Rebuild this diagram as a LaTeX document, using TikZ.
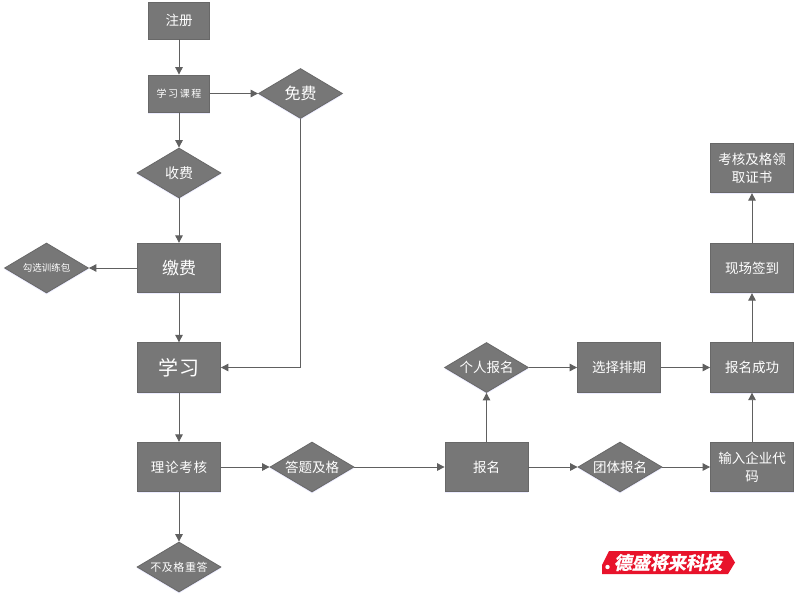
\documentclass[tikz,border=0pt]{standalone}
\usepackage{fontspec}
\setmainfont{Noto Sans CJK SC}
\newfontfamily\logofont[UprightFont=* Bold,FakeSlant=.18,FakeBold=1.2]{Noto Sans CJK SC}
\usetikzlibrary{shapes.geometric,arrows.meta,shadows}
\definecolor{boxfill}{HTML}{777777}
\definecolor{boxline}{HTML}{686868}
\definecolor{linkc}{HTML}{606060}
\definecolor{logored}{HTML}{E8132B}
\newcommand{\fs}[1]{\fontsize{#1pt}{18pt}\selectfont}
\tikzset{
 softshadow/.style={drop shadow={shadow xshift=0pt,shadow yshift=-1.5pt,fill=blue!30!white,opacity=.25}},
 basebox/.style={draw=boxline,fill=boxfill,line width=.8pt,text=white,align=center,inner sep=0pt,softshadow,font=\fs{13.5}},
 rectbox/.style={basebox,rectangle,minimum width=83pt,minimum height=49.5pt},
 smallbox/.style={basebox,rectangle,minimum width=61.5pt,minimum height=37pt},
 decide/.style={basebox,diamond,aspect=1.66,minimum width=84pt,minimum height=50pt},
 link/.style={draw=linkc,line width=.9pt,-{Triangle[length=7.5pt,width=7.5pt,fill=linkc]}}
}
\begin{document}
\begin{tikzpicture}[x=1pt,y=-1pt]
\useasboundingbox (0,0) rectangle (799,599);
\fill[white] (0,0) rectangle (799,599);
\node[smallbox] (zc) at (179,20.5) {\fs{13.5}注册};
\node[smallbox] (kc) at (179,93.5) {\fs{10}\addfontfeature{LetterSpace=16}学习课程};
\node[decide] (mf) at (300.5,93.5) {\fs{16}免费};
\node[decide] (sf) at (179,173) {\fs{14}收费};
\node[rectbox] (jf) at (179,268) {\fs{17}缴费};
\node[decide] (gx) at (46.5,268) {\fs{9.5}勾选训练包};
\node[rectbox] (xx) at (179,367.5) {\fs{20}\addfontfeature{LetterSpace=5}学习};
\node[rectbox] (ll) at (179,467) {\fs{13.5}\addfontfeature{LetterSpace=6}理论考核};
\node[decide] (bj) at (179,567) {\fs{11}\addfontfeature{LetterSpace=5}不及格重答};
\node[decide] (dt) at (312,467) {答题及格};
\node[rectbox] (bm) at (486.5,467) {报名};
\node[decide] (tt) at (620,467) {团体报名};
\node[rectbox] (sr) at (752,467) {输入企业代\\码};
\node[decide] (gr) at (486.5,367.5) {个人报名};
\node[rectbox] (pq) at (619,367.5) {选择排期};
\node[rectbox] (cg) at (752,367.5) {报名成功};
\node[rectbox] (qd) at (752,268) {现场签到};
\node[rectbox] (ks) at (752,168) {考核及格领\\取证书};
\draw[link] (zc) -- (kc);
\draw[link] (kc) -- (mf);
\draw[link] (kc) -- (sf);
\draw[link] (sf) -- (jf);
\draw[link] (jf) -- (gx);
\draw[link] (jf) -- (xx);
\draw[link] (mf) |- (xx);
\draw[link] (xx) -- (ll);
\draw[link] (ll) -- (bj);
\draw[link] (ll) -- (dt);
\draw[link] (dt) -- (bm);
\draw[link] (bm) -- (tt);
\draw[link] (tt) -- (sr);
\draw[link] (bm) -- (gr);
\draw[link] (gr) -- (pq);
\draw[link] (pq) -- (cg);
\draw[link] (sr) -- (cg);
\draw[link] (cg) -- (qd);
\draw[link] (qd) -- (ks);
\fill[logored] (609,551) -- (728,551) -- (735,562.5) -- (728,574) -- (602,574) -- (602,565) -- cycle;
\fill[white] (607.5,567) circle (2.2);
\node[text=white,inner sep=0pt,font=\logofont\fs{18}] (logo) at (668,562.5) {德盛将来科技};
\end{tikzpicture}
\end{document}
